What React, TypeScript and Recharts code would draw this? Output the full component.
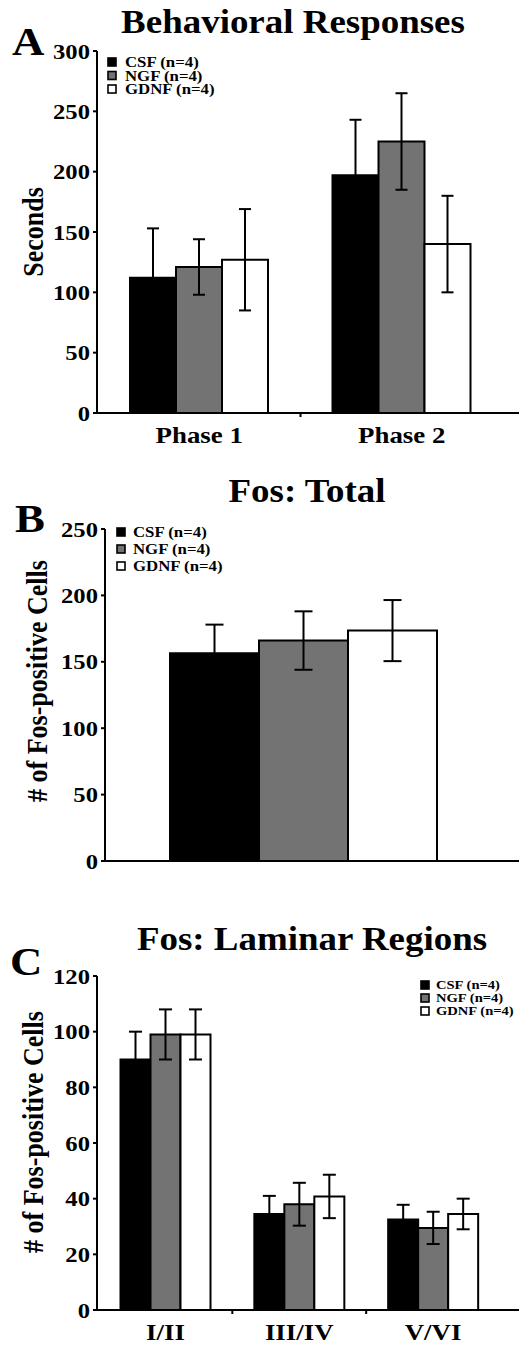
import React from 'react';
import { BarChart, Bar, XAxis, YAxis, ErrorBar, Legend } from 'recharts';

const SX = 1.12;
const FONT = '"Liberation Serif", "Times New Roman", Times, serif';

const seriesNames = ['CSF (n=4)', 'NGF (n=4)', 'GDNF (n=4)'];
const seriesColors = ['#000000', '#737373', '#ffffff'];

// Panel A: Behavioral Responses
const phases = ['Phase 1', 'Phase 2'];
const behCSF = [112, 197];
const behCSFErr = [41, 46];
const behNGF = [121, 225];
const behNGFErr = [23, 40];
const behGDNF = [127, 140];
const behGDNFErr = [42, 40];
const behTicks = [0, 50, 100, 150, 200, 250, 300];

// Panel B: Fos: Total
const totalCats = [''];
const totCSF = [156.5];
const totCSFErr = [21.5];
const totNGF = [166];
const totNGFErr = [22];
const totGDNF = [173.5];
const totGDNFErr = [23];
const totTicks = [0, 50, 100, 150, 200, 250];

// Panel C: Fos: Laminar Regions
const regions = ['I/II', 'III/IV', 'V/VI'];
const lamCSF = [90, 34.5, 32.5];
const lamCSFErr = [10, 6.5, 5.3];
const lamNGF = [99, 38, 29.5];
const lamNGFErr = [9, 7.7, 5.8];
const lamGDNF = [99, 40.8, 34.5];
const lamGDNFErr = [9, 7.8, 5.5];
const lamTicks = [0, 20, 40, 60, 80, 100, 120];

function buildRows(cats: string[], vals: number[][], errs: number[][]) {
  return cats.map((c, i) => ({
    name: c,
    s0: vals[0][i], e0: errs[0][i],
    s1: vals[1][i], e1: errs[1][i],
    s2: vals[2][i], e2: errs[2][i],
  }));
}

const behData = buildRows(phases, [behCSF, behNGF, behGDNF], [behCSFErr, behNGFErr, behGDNFErr]);
const totData = buildRows(totalCats, [totCSF, totNGF, totGDNF], [totCSFErr, totNGFErr, totGDNFErr]);
const lamData = buildRows(regions, [lamCSF, lamNGF, lamGDNF], [lamCSFErr, lamNGFErr, lamGDNFErr]);

const YTick = (props: any) => {
  const { x, y, payload } = props;
  return (
    <text
      transform={`translate(${x},${y}) scale(${SX},1)`}
      textAnchor="end"
      dominantBaseline="central"
      fontFamily={FONT}
      fontWeight="bold"
      fontSize={22}
      fill="#000"
    >
      {payload.value}
    </text>
  );
};

const XTick = (props: any) => {
  const { x, y, payload, index, visibleTicksCount } = props;
  const half = payload && typeof payload.offset === 'number' ? payload.offset : 0;
  const axisY = y - 8;
  const isLast = index === (visibleTicksCount ?? 0) - 1;
  return (
    <g>
      {!isLast && half > 0 ? (
        <line x1={x + half} x2={x + half} y1={axisY} y2={axisY + 4} stroke="#000" strokeWidth={2} />
      ) : null}
      <text
        transform={`translate(${x},${y + 22}) scale(${SX},1)`}
        textAnchor="middle"
        fontFamily={FONT}
        fontWeight="bold"
        fontSize={24}
        fill="#000"
      >
        {payload.value}
      </text>
    </g>
  );
};

const yLabel = (text: string, baseX: number, shift: number) => ({
  content: (p: any) => {
    const vb = p.viewBox || { x: 0, y: 0, width: 0, height: 0 };
    const cx = vb.x + baseX;
    const cy = vb.y + vb.height / 2 + shift;
    return (
      <text
        transform={`translate(${cx},${cy}) scale(${SX},1) rotate(-90)`}
        textAnchor="middle"
        fontFamily={FONT}
        fontWeight="bold"
        fontSize={26}
        fill="#000"
      >
        {text}
      </text>
    );
  },
});

const makeLegend = (gap: number, textX: number, fontSize: number) => () => (
  <svg width={140} height={gap * 2 + 18} style={{ overflow: 'visible' }}>
    {seriesNames.map((n, i) => {
      const cy = 8 + i * gap;
      return (
        <g key={n}>
          <rect x={2} y={cy - 4} width={8} height={8} fill={seriesColors[i]} stroke="#000" strokeWidth={1.6} />
          <text
            transform={`translate(${textX},${cy + fontSize * 0.34}) scale(${SX},1)`}
            fontFamily={FONT}
            fontWeight="bold"
            fontSize={fontSize}
            fill="#000"
          >
            {n}
          </text>
        </g>
      );
    })}
  </svg>
);

const axisStyle = { stroke: '#000', strokeWidth: 2 };

const bars = (barSize: number, capW: number) =>
  ['s0', 's1', 's2'].map((k, i) => (
    <Bar
      key={k}
      dataKey={k}
      name={seriesNames[i]}
      fill={seriesColors[i]}
      stroke="#000"
      strokeWidth={2}
      barSize={barSize}
      isAnimationActive={false}
    >
      <ErrorBar dataKey={`e${i}`} width={capW} stroke="#000" strokeWidth={2} direction="y" />
    </Bar>
  ));

const Title = ({ x, y, size, text, anchor }: any) => (
  <text
    transform={`translate(${x},${y}) scale(${SX},1)`}
    textAnchor={anchor}
    fontFamily={FONT}
    fontWeight="bold"
    fontSize={size}
    fill="#000"
  >
    {text}
  </text>
);

export default function App() {
  return (
    <div style={{ position: 'absolute', left: 0, top: 0, width: 520, height: 1347, overflow: 'hidden', background: '#fff' }}>
      {/* Panel A */}
      <div style={{ position: 'absolute', left: 0, top: 0 }}>
        <BarChart width={520} height={450} data={behData} margin={{ top: 51, right: 1, left: 0, bottom: 0 }} barGap={0}>
          <XAxis dataKey="name" type="category" height={37} padding={{ left: 1, right: 16 }} axisLine={axisStyle} tickLine={false} tickSize={6} tickMargin={2} tick={<XTick />} interval={0} />
          <YAxis type="number" domain={[0, 300]} ticks={behTicks} interval={0} width={97} axisLine={axisStyle} tickLine={axisStyle} tickSize={4} tickMargin={3} tick={<YTick />} label={yLabel('Seconds', 43, 0)} />
          <Legend layout="vertical" align="center" verticalAlign="middle" wrapperStyle={{ left: 106, top: 54, width: 140, height: 45 }} content={makeLegend(13.5, 19, 15)} />
          {bars(46, 6)}
        </BarChart>
      </div>
      {/* Panel B */}
      <div style={{ position: 'absolute', left: 0, top: 470 }}>
        <BarChart width={520} height={420} data={totData} margin={{ top: 59, right: 1, left: 0, bottom: 0 }} barGap={0}>
          <XAxis dataKey="name" type="category" height={29} padding={{ left: 0, right: 17 }} axisLine={axisStyle} tickLine={false} tick={false} />
          <YAxis type="number" domain={[0, 250]} ticks={totTicks} interval={0} width={105} axisLine={axisStyle} tickLine={axisStyle} tickSize={4} tickMargin={3} tick={<YTick />} label={yLabel('# of Fos-positive Cells', 47, -14)} />
          <Legend layout="vertical" align="center" verticalAlign="middle" wrapperStyle={{ left: 115, top: 54, width: 140, height: 55 }} content={makeLegend(17, 18, 15)} />
          {bars(89, 9)}
        </BarChart>
      </div>
      {/* Panel C */}
      <div style={{ position: 'absolute', left: 0, top: 930 }}>
        <BarChart width={520} height={417} data={lamData} margin={{ top: 46, right: 1, left: 0, bottom: 0 }} barGap={0}>
          <XAxis dataKey="name" type="category" height={37} padding={{ left: 1.5, right: 19 }} axisLine={axisStyle} tickLine={false} tickSize={6} tickMargin={2} tick={<XTick />} interval={0} />
          <YAxis type="number" domain={[0, 120]} ticks={lamTicks} interval={0} width={97} axisLine={axisStyle} tickLine={axisStyle} tickSize={4} tickMargin={3} tick={<YTick />} label={yLabel('# of Fos-positive Cells', 43, -11)} />
          <Legend layout="vertical" align="center" verticalAlign="middle" wrapperStyle={{ left: 419, top: 47, width: 140, height: 44 }} content={makeLegend(13, 17, 13)} />
          {bars(30, 6.5)}
        </BarChart>
      </div>
      {/* Titles and panel letters */}
      <svg width={520} height={1347} style={{ position: 'absolute', left: 0, top: 0, pointerEvents: 'none' }}>
        <Title x={293} y={33} size={33} text="Behavioral Responses" anchor="middle" />
        <Title x={12} y={55} size={40} text="A" anchor="start" />
        <Title x={307} y={502} size={33} text="Fos: Total" anchor="middle" />
        <Title x={15} y={532} size={40} text="B" anchor="start" />
        <Title x={312} y={950} size={33} text="Fos: Laminar Regions" anchor="middle" />
        <Title x={10} y={975} size={40} text="C" anchor="start" />
      </svg>
    </div>
  );
}
